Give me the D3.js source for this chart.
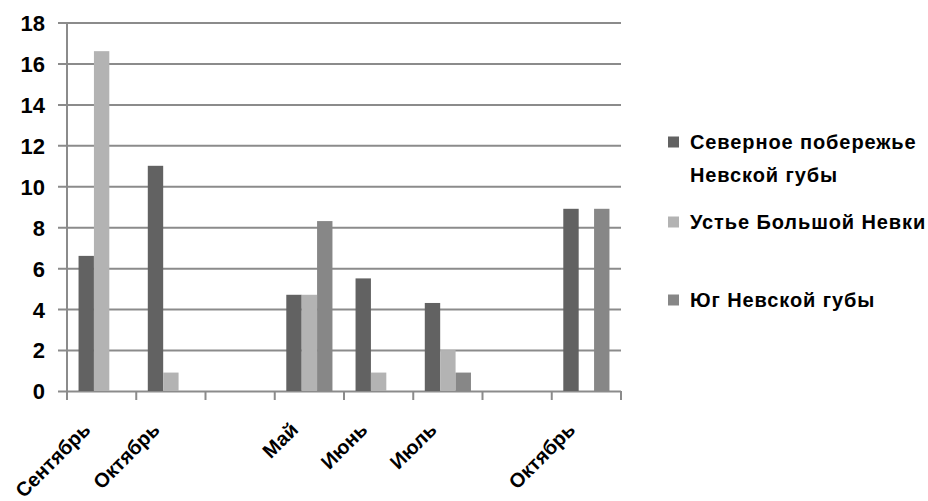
<!DOCTYPE html>
<html>
<head>
<meta charset="utf-8">
<script src="https://cdn.jsdelivr.net/npm/d3@7"></script>
<style>
  html, body { margin: 0; padding: 0; background: #fff; }
  svg { display: block; }
</style>
</head>
<body>
<svg id="chart" width="928" height="501"></svg>
<script>
// Month labels per category slot (blank slots separate the seasons)
const months = ["Сентябрь", "Октябрь", "", "Май", "Июнь", "Июль", "", "Октябрь"];

// Series values per slot (null = no bar)
const northShore = [6.6, 11, null, 4.7, 5.5, 4.3, null, 8.9];
const nevkaMouth = [16.6, 0.9, null, 4.7, 0.9, 2.0, null, null];
const southBay   = [null, null, null, 8.3, null, 0.9, null, 8.9];

const seriesColors = ["#626262", "#b3b3b3", "#878787"];

const yTicks = [0, 2, 4, 6, 8, 10, 12, 14, 16, 18];

const series = [northShore, nevkaMouth, southBay];

const svg = d3.select("#chart");
svg.append("rect").attr("width", 928).attr("height", 501).attr("fill", "#fff");

const plot = { left: 67, right: 621, top: 22.5, bottom: 391 };

const x = d3.scaleBand()
  .domain(d3.range(months.length))
  .range([plot.left, plot.right])
  .paddingInner(0).paddingOuter(0);

const y = d3.scaleLinear().domain([0, 18]).range([plot.bottom, plot.top]);

// Bars occupy 3 slots of band/4.5, centred in each band
const barW = x.bandwidth() / 4.5;
const groupOffset = (x.bandwidth() - 3 * barW) / 2;
const inner = d3.scaleBand().domain([0, 1, 2])
  .range([groupOffset, groupOffset + 3 * barW]).padding(0);

const gridColor = "#8b8b8b";
const font = "'Liberation Sans', Arial, sans-serif";

// Horizontal gridlines with left tick stubs
const yAxis = d3.axisLeft(y).tickValues(yTicks)
  .tickFormat(d3.format("d"));
const gy = svg.append("g")
  .attr("transform", `translate(${plot.left - 9},0)`)
  .call(yAxis);
gy.select(".domain").remove();
gy.selectAll(".tick line")
  .attr("stroke", gridColor).attr("stroke-width", 2)
  .attr("x1", 0).attr("x2", plot.right - plot.left + 9);
gy.selectAll(".tick text")
  .attr("x", 45 - (plot.left - 9))
  .attr("text-anchor", "end")
  .attr("dy", "0.36em")
  .style("font-family", font)
  .style("font-weight", "bold")
  .style("font-size", "22px")
  .attr("fill", "#000");

// Vertical axis line
svg.append("line")
  .attr("x1", plot.left).attr("x2", plot.left)
  .attr("y1", plot.top).attr("y2", plot.bottom)
  .attr("stroke", gridColor).attr("stroke-width", 2);

// Category boundary ticks below the baseline
const boundaries = d3.range(months.length + 1).map(i => plot.left + i * x.bandwidth());
svg.append("g").selectAll("line").data(boundaries).join("line")
  .attr("x1", d => d).attr("x2", d => d)
  .attr("y1", plot.bottom).attr("y2", plot.bottom + 9)
  .attr("stroke", gridColor).attr("stroke-width", 2);

// Bars
series.forEach((vals, si) => {
  svg.append("g").selectAll("rect")
    .data(vals.map((v, i) => ({ i, v })).filter(d => d.v != null))
    .join("rect")
    .attr("x", d => x(d.i) + inner(si))
    .attr("width", barW)
    .attr("y", d => y(d.v))
    .attr("height", d => y(0) - y(d.v))
    .attr("fill", seriesColors[si]);
});

// Rotated month labels
svg.append("g").selectAll("text")
  .data(months.map((m, i) => ({ m, i })).filter(d => d.m))
  .join("text")
  .attr("transform", d => `translate(${x(d.i) + x.bandwidth() / 2 - 10},431) rotate(-45)`)
  .attr("text-anchor", "end")
  .style("font-family", font)
  .style("font-weight", "bold")
  .style("font-size", "20px")
  .attr("fill", "#000")
  .text(d => d.m);

// Legend
const legend = [
  { lines: ["Северное побережье", "Невской губы"], y: 142 },
  { lines: ["Устье Большой Невки"], y: 222 },
  { lines: ["Юг Невской губы"], y: 300 }
];
const lg = svg.append("g");
legend.forEach((item, i) => {
  lg.append("rect")
    .attr("x", 668).attr("y", item.y - 5.5)
    .attr("width", 11).attr("height", 11)
    .attr("fill", seriesColors[i]);
  item.lines.forEach((ln, k) => {
    lg.append("text")
      .attr("x", 690).attr("y", item.y + k * 33)
      .attr("dy", "0.36em")
      .style("font-family", font)
      .style("font-weight", "bold")
      .style("font-size", "20px")
      .style("letter-spacing", "0.9px")
      .attr("fill", "#000")
      .text(ln);
  });
});
</script>
</body>
</html>
